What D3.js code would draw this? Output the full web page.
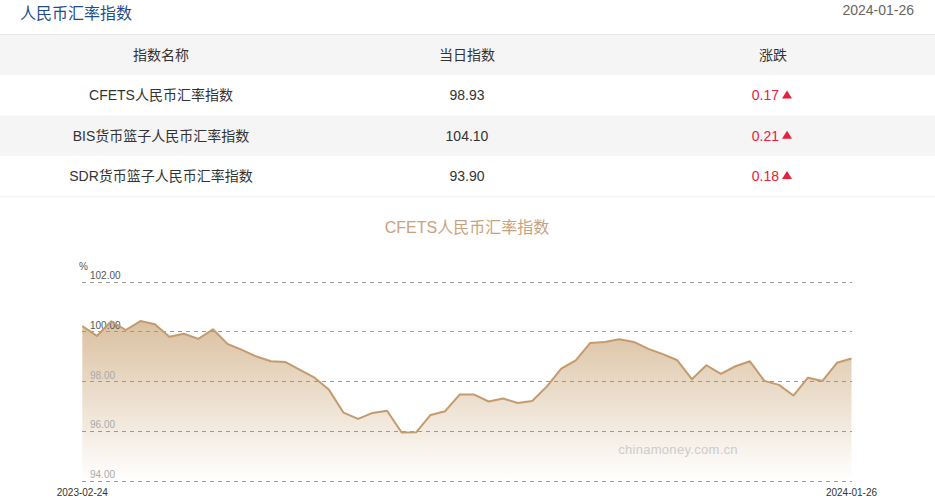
<!DOCTYPE html>
<html>
<head>
<meta charset="utf-8">
<script src="https://cdn.jsdelivr.net/npm/d3@7"></script>
<style>
html,body{margin:0;padding:0;background:#fff;}
svg{display:block;font-family:"Liberation Sans","Noto Sans CJK SC",Arial,sans-serif;}
</style>
</head>
<body>
<svg id="c" width="935" height="499"></svg>
<script>
// ---- data ----
const pageTitle = "人民币汇率指数";
const pageDate = "2024-01-26";
const tableHeaders = ["指数名称", "当日指数", "涨跌"];
const indexNames = ["CFETS人民币汇率指数", "BIS货币篮子人民币汇率指数", "SDR货币篮子人民币汇率指数"];
const indexValues = ["98.93", "104.10", "93.90"];
const indexChanges = ["0.17", "0.21", "0.18"];
const chartTitle = "CFETS人民币汇率指数";
const xLabels = ["2023-02-24", "2024-01-26"];
const yTicks = [94, 96, 98, 100, 102];
const cfetsValues = [
  100.24, 99.84, 100.43, 100.08, 100.44, 100.31, 99.81, 99.93, 99.72, 100.11,
  99.52, 99.28, 99.01, 98.82, 98.79, 98.47, 98.16, 97.67, 96.75, 96.50,
  96.74, 96.83, 95.95, 95.96, 96.66, 96.81, 97.48, 97.48, 97.20, 97.32,
  97.14, 97.22, 97.80, 98.52, 98.86, 99.56, 99.60, 99.71, 99.60, 99.32,
  99.11, 98.86, 98.10, 98.66, 98.31, 98.62, 98.82, 98.03, 97.87, 97.44,
  98.16, 98.03, 98.76, 98.93
];

const svg = d3.select("#c");

// ---- header ----
svg.append("text").attr("x", 20).attr("y", 19).attr("font-size", 16)
  .attr("fill", "#1e4e8c").text(pageTitle);
svg.append("text").attr("x", 914).attr("y", 15).attr("text-anchor", "end")
  .attr("font-size", 14).attr("fill", "#666").text(pageDate);
svg.append("rect").attr("x", 0).attr("y", 34).attr("width", 935).attr("height", 1).attr("fill", "#e8e8e8");

// ---- table ----
const colX = [161, 467, 773];
const rowTop = 35, rowH = 40.3;
const rows = d3.range(4);
svg.selectAll("rect.row").data(rows).join("rect").attr("class", "row")
  .attr("x", 0).attr("width", 935)
  .attr("y", i => rowTop + i * rowH).attr("height", rowH)
  .attr("fill", i => (i % 2 === 0 ? "#f5f5f5" : "#ffffff"));
svg.append("rect").attr("x", 0).attr("y", rowTop + 4 * rowH).attr("width", 935).attr("height", 1).attr("fill", "#efefef");

svg.selectAll("text.th").data(tableHeaders).join("text").attr("class", "th")
  .attr("x", (d, i) => colX[i]).attr("y", rowTop + rowH / 2 + 5)
  .attr("text-anchor", "middle").attr("font-size", 14).attr("fill", "#333").text(d => d);

indexNames.forEach((name, i) => {
  const cy = rowTop + (i + 1) * rowH + rowH / 2 + 5;
  svg.append("text").attr("x", colX[0]).attr("y", cy).attr("text-anchor", "middle")
    .attr("font-size", 14).attr("fill", "#333").text(name);
  svg.append("text").attr("x", colX[1]).attr("y", cy).attr("text-anchor", "middle")
    .attr("font-size", 14).attr("fill", "#333").text(indexValues[i]);
  svg.append("text").attr("x", colX[2] + 6).attr("y", cy).attr("text-anchor", "end")
    .attr("font-size", 14).attr("fill", "#e8203a").text(indexChanges[i]);
  const ax = colX[2] + 14, ay = cy - 5;
  svg.append("path").attr("d", `M${ax - 5},${ay + 3}L${ax + 5},${ay + 3}L${ax},${ay - 5}Z`).attr("fill", "#e8203a");
});

// ---- chart ----
svg.append("text").attr("x", 467).attr("y", 233).attr("text-anchor", "middle")
  .attr("font-size", 16).attr("fill", "#c8a27c").text(chartTitle);

const x = d3.scaleLinear().domain([0, cfetsValues.length - 1]).range([82.3, 851.5]);
const y = d3.scaleLinear().domain([94, 102]).range([481, 282.3]);

const defs = svg.append("defs");
const grad = defs.append("linearGradient").attr("id", "g").attr("x1", 0).attr("y1", 0).attr("x2", 0).attr("y2", 1);
grad.append("stop").attr("offset", "0%").attr("stop-color", "#d7bb98");
grad.append("stop").attr("offset", "100%").attr("stop-color", "#ffffff");

const area = d3.area().x((d, i) => x(i)).y0(y(94)).y1(d => y(d));
svg.append("path").datum(cfetsValues).attr("d", area).attr("fill", "url(#g)").attr("fill-opacity", 0.92);

// gridlines
svg.selectAll("line.grid").data(yTicks).join("line").attr("class", "grid")
  .attr("x1", 82).attr("x2", 852).attr("y1", d => y(d)).attr("y2", d => y(d))
  .attr("stroke", "#999").attr("stroke-width", 1).attr("stroke-dasharray", "4,4")
  .attr("shape-rendering", "crispEdges");

// y tick labels
svg.selectAll("text.yt").data(yTicks).join("text").attr("class", "yt")
  .attr("x", 90).attr("y", d => y(d) - 3).attr("font-size", 10)
  .attr("fill", d => d >= 100 ? "#555" : "#aaa").text(d => d.toFixed(2));
svg.append("text").attr("x", 79).attr("y", 270).attr("font-size", 10).attr("fill", "#555").text("%");

const line = d3.line().x((d, i) => x(i)).y(d => y(d));
svg.append("path").datum(cfetsValues).attr("d", line).attr("fill", "none")
  .attr("stroke", "#c49b6d").attr("stroke-width", 2).attr("stroke-linejoin", "round");

// watermark
svg.append("text").attr("x", 678).attr("y", 454).attr("text-anchor", "middle")
  .attr("font-size", 13).attr("fill", "#cccccc").attr("letter-spacing", 0.3).text("chinamoney.com.cn");

// x labels
svg.selectAll("text.xl").data(xLabels).join("text").attr("class", "xl")
  .attr("x", (d, i) => x(i === 0 ? 0 : cfetsValues.length - 1)).attr("y", 496)
  .attr("text-anchor", "middle").attr("font-size", 10).attr("fill", "#333").text(d => d);
</script>
</body>
</html>
